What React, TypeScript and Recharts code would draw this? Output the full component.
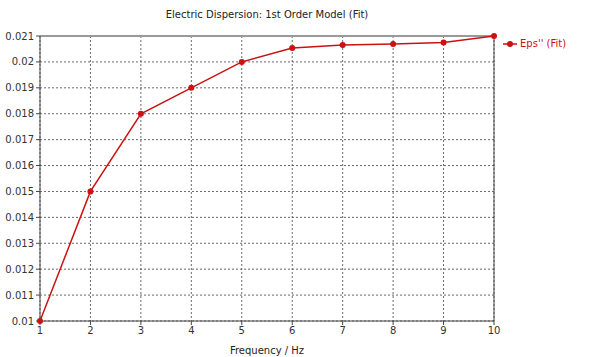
import { LineChart, Line, XAxis, YAxis, CartesianGrid, ReferenceLine } from "recharts";

// frequency (Hz) vs fitted eps''
const frequency = [1, 2, 3, 4, 5, 6, 7, 8, 9, 10];
const epsFit = [0.01, 0.015, 0.018, 0.019, 0.02, 0.02054, 0.02065, 0.02069, 0.02075, 0.021];
const yTicks = [0.01, 0.011, 0.012, 0.013, 0.014, 0.015, 0.016, 0.017, 0.018, 0.019, 0.02, 0.021];

const data = frequency.map((f, i) => ({ f, eps: epsFit[i] }));

const FONT = "'DejaVu Sans', Verdana, sans-serif";
const RED = "#cc1111";

export default function App() {
    return (
        <div style={{ position: "absolute", left: 0, top: 0, width: 600, height: 357, background: "#fff", fontFamily: FONT }}>
            <div style={{ position: "absolute", top: 9, left: 40, width: 454, textAlign: "center", fontSize: 10, color: "#222" }}>
                Electric Dispersion: 1st Order Model (Fit)
            </div>
            {/* legend sits outside the plot, so it is plain html */}
            <div style={{ position: "absolute", top: 38, left: 503, display: "flex", alignItems: "center", fontSize: 10, color: RED }}>
                <svg width={14} height={10}>
                    <line x1={0} y1={5} x2={14} y2={5} stroke={RED} strokeWidth={1.5} />
                    <circle cx={7} cy={5} r={3} fill={RED} />
                </svg>
                <span style={{ marginLeft: 3 }}>Eps'' (Fit)</span>
            </div>
            <LineChart width={600} height={357} data={data} margin={{ top: 36, right: 106, left: 0, bottom: 0 }}>
                <CartesianGrid stroke="#444" strokeDasharray="2 2" strokeWidth={0.8} />
                <XAxis
                    dataKey="f"
                    type="number"
                    domain={[1, 10]}
                    ticks={frequency}
                    height={36}
                    stroke="#444"
                    tickSize={4}
                    tick={{ fontSize: 10, fill: "#333", fontFamily: FONT }}
                    label={{ value: "Frequency / Hz", position: "insideBottom", offset: 3, fontSize: 10, fill: "#222", fontFamily: FONT }}
                />
                <YAxis
                    type="number"
                    domain={[0.01, 0.021]}
                    ticks={yTicks}
                    width={40}
                    stroke="#444"
                    tickSize={4}
                    tick={{ fontSize: 10, fill: "#333", fontFamily: FONT }}
                />
                <ReferenceLine y={0.021} stroke="#999" strokeWidth={2} />
                <ReferenceLine x={10} stroke="#444" strokeWidth={1} />
                <Line
                    type="linear"
                    dataKey="eps"
                    name="Eps'' (Fit)"
                    stroke={RED}
                    strokeWidth={1.5}
                    dot={{ r: 3, fill: RED, stroke: RED, strokeWidth: 0 }}
                    isAnimationActive={false}
                />
            </LineChart>
        </div>
    );
}
